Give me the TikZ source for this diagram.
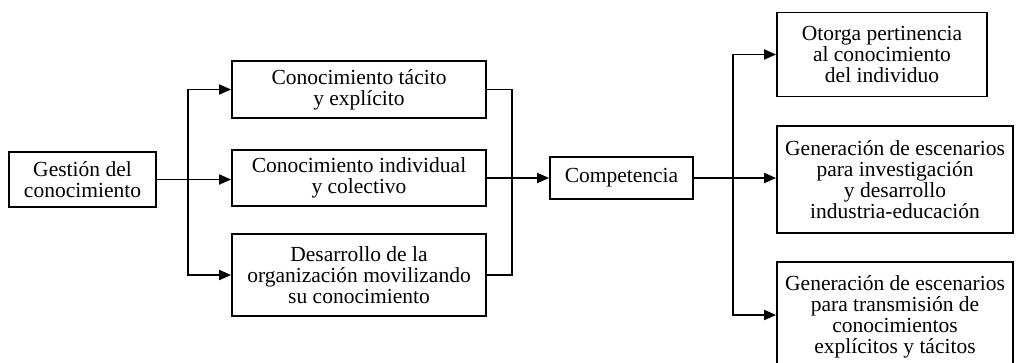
\documentclass[tikz,border=0pt]{standalone}
\usepackage{fontspec}
\setmainfont{Liberation Serif}
\usetikzlibrary{arrows.meta}
\begin{document}
\begin{tikzpicture}[x=1pt,y=-1pt,
  box/.style={draw,line width=1.8pt,align=center,inner sep=0pt,
    font=\fontsize{21.5}{21}\selectfont},
  conn/.style={line width=1.8pt},
  arr/.style={conn,-{Triangle[length=12pt,width=10pt]}}]
\useasboundingbox (0,0) rectangle (1016,362);
\node[box,minimum width=147pt,minimum height=55pt] (gestion) at (82.5,179.5) {Gestión del\\conocimiento};
\node[box,minimum width=254pt,minimum height=57pt] (tacito) at (359,89.5) {Conocimiento tácito\\y explícito};
\node[box,minimum width=254pt,minimum height=56pt] (indiv) at (359,178) {Conocimiento individual\\y colectivo};
\node[box,minimum width=254pt,minimum height=82pt] (desarrollo) at (359,275) {Desarrollo de la\\organización movilizando\\su conocimiento};
\node[box,minimum width=143pt,minimum height=42pt] (comp) at (621.5,178) {Competencia};
\node[box,minimum width=210pt,minimum height=84pt] (r1) at (882,54.5) {Otorga pertinencia\\al conocimiento\\del individuo};
\node[box,minimum width=236pt,minimum height=107pt] (r2) at (895,179.5) {Generación de escenarios\\para investigación\\y desarrollo\\industria-educación};
\node[box,minimum width=236pt,minimum height=106pt,text depth=0pt] (r3) at (895,315) {Generación de escenarios\\para transmisión de\\conocimientos\\explícitos y tácitos};
\coordinate (split) at (188,179.5);
\coordinate (join) at (512,178);
\coordinate (split2) at (733,179.5);
\draw[arr] (gestion.east) -- (gestion.east -| indiv.west);
\draw[arr] (split) |- (tacito.west);
\draw[arr] (split) |- (desarrollo.west);
\draw[conn] (tacito.east) -| (join);
\draw[conn] (desarrollo.east) -| (join);
\draw[arr] (indiv.east) -- (comp.west);
\draw[arr] (comp.east) -- (comp.east -| r2.west);
\draw[arr] (split2) |- (r1.west);
\draw[arr] (split2) |- (r3.west);
\end{tikzpicture}
\end{document}
